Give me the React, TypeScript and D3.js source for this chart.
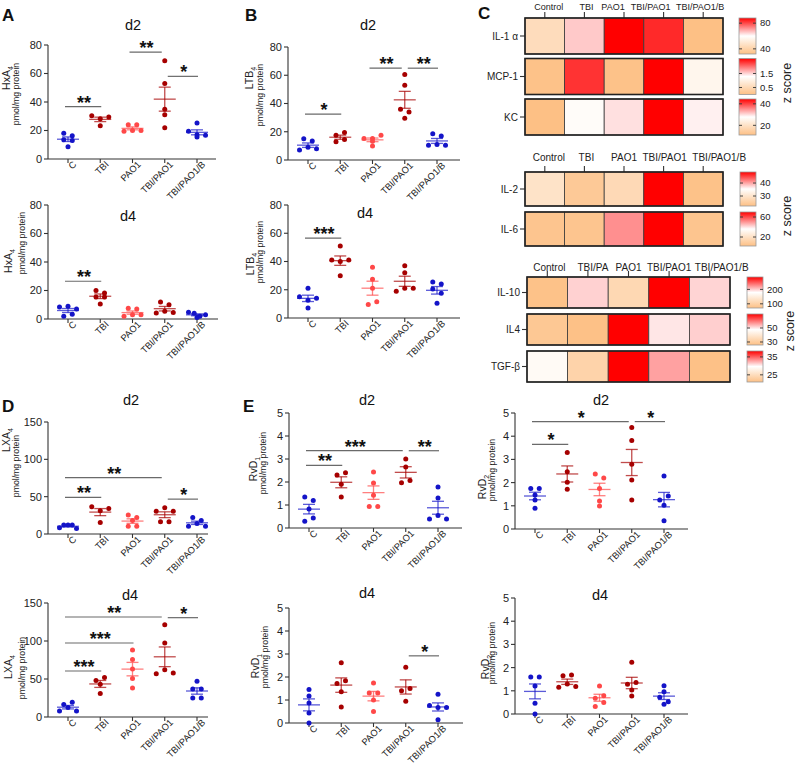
import React from 'react';
import * as d3 from 'd3';

const FONT = "'Liberation Sans', Arial, Helvetica, sans-serif";

// ---------- scatter data ----------
const categories = ['C', 'TBI', 'PAO1', 'TBI/PAO1', 'TBI/PAO1/B'];
const groupColors = ['#1414c8', '#a60000', '#ff4848', '#a60000', '#1414c8'];

const hxa4D2 = [[18, 16.3, 13.5, 13, 8.6], [30.3, 28.2, 29.4, 23.3], [19.5, 24, 20, 24, 20], [69, 53, 35, 31, 22], [19.4, 25.2, 15.4, 17, 16.6]];
const hxa4D2Sig: [number, number, number, string][] = [[0, 1, 36.8, '**'], [2, 3, 75, '**'], [3, 4, 58, '*']];
const hxa4D4 = [[8.5, 9, 7, 2, 3.3], [20, 18.3, 15.5, 15.5, 10.5], [2, 7.5, 7, 3, 3], [12, 10, 4.2, 5.5, 4.5], [4.7, 4, 2, 3, 1]];
const hxa4D4Sig: [number, number, number, string][] = [[0, 1, 26.5, '**']];

const ltb4D2 = [[15, 13.5, 7, 9, 8], [17.5, 19.5, 13, 14.5], [15.3, 15.3, 17.6, 9.9, 13.2], [60.5, 53, 36, 34, 29.5], [18.5, 17, 10.5, 11, 10.5]];
const ltb4D2Sig: [number, number, number, string][] = [[0, 1, 32.5, '*'], [2, 3, 65, '**'], [3, 4, 65, '**']];
const ltb4D4 = [[21, 15, 12.5, 14, 7], [51, 41, 40, 41, 30], [36, 27.5, 21, 9.5, 11.5], [37, 32, 19, 21, 21], [25.5, 24, 20.5, 17.5, 10.5]];
const ltb4D4Sig: [number, number, number, string][] = [[0, 1, 56.5, '***']];

const lxa4D2 = [[8.5, 12, 12, 12, 7.5], [36.5, 31, 34.3, 15.5], [25.5, 22, 18, 10.5, 10.5], [30.5, 35, 30.5, 16.5, 16.5], [22, 18, 10.5, 14, 10.5]];
const lxa4D2Sig: [number, number, number, string][] = [[0, 1, 49, '**'], [0, 3, 75.6, '**'], [3, 4, 46.7, '*']];
const lxa4D4 = [[16.5, 19.5, 8, 12.5, 8], [48, 52, 43, 31], [88, 75.5, 63, 50.5, 38], [121.5, 97.4, 57, 62.3, 57.9], [47, 37, 37, 25, 25]];
const lxa4D4Sig: [number, number, number, string][] = [[0, 1, 60.5, '***'], [0, 2, 97.4, '***'], [0, 3, 131.6, '**'], [3, 4, 130.7, '*']];

const rvd1D2 = [[1.35, 1.2, 0.83, 0.29, 0.43], [2.3, 2.4, 1.9, 1.35], [2.43, 1.96, 1.42, 0.94, 0.94], [3.0, 2.65, 1.97, 2.06], [1.78, 1.3, 0.39, 0.54, 0.39]];
const rvd1D2Sig: [number, number, number, string][] = [[0, 1, 2.72, '**'], [0, 3, 3.36, '***'], [3, 4, 3.36, '**']];
const rvd2D2 = [[1.75, 1.75, 1.47, 1.25, 0.89], [3.3, 2.47, 2.01, 1.71], [2.37, 2.2, 1.75, 1.21, 0.99], [4.37, 3.81, 2.79, 2.11, 1.25], [2.28, 1.25, 1.42, 1.02, 0.36]];
const rvd2D2Sig: [number, number, number, string][] = [[0, 1, 3.65, '*'], [0, 3, 4.63, '*'], [3, 4, 4.63, '*']];
const rvd1D4 = [[1.46, 1.17, 0.87, 0.44, 0], [2.62, 1.72, 1.84, 1.36, 0.7], [1.74, 1.3, 1.3, 1.0, 0.5], [2.42, 1.4, 1.5, 0.95], [1.25, 0.76, 0.67, 0.67, 0.14]];
const rvd1D4Sig: [number, number, number, string][] = [[3, 4, 2.92, '*']];
const rvd2D4 = [[1.6, 1.6, 1.21, 0.46, 0], [1.65, 1.68, 1.15, 1.29, 1.18], [1.21, 0.68, 0.79, 0.32, 0.5], [2.23, 1.28, 1.36, 1.03, 0.78], [1.22, 0.96, 0.72, 0.53, 0.42]];
const rvd2D4Sig: [number, number, number, string][] = [];

const ticks80 = [0, 20, 40, 60, 80];
const ticks150 = [0, 50, 100, 150];
const ticks5 = [0, 1, 2, 3, 4, 5];

// ---------- heatmap data ----------
const hmHeaders1 = ['Control', 'TBI', 'PAO1', 'TBI/PAO1', 'TBI/PAO1/B'];
const hmHeaders3 = ['Control', 'TBI/PA', 'PAO1', 'TBI/PAO1', 'TBI/PAO1/B'];
const hmRows1 = ['IL-1 α', 'MCP-1', 'KC'];
const hmRows2 = ['IL-2', 'IL-6'];
const hmRows3 = ['IL-10', 'IL4', 'TGF-β'];
const hmValues1 = [[-0.55, 0.21, 1, 0.84, -1], [-0.97, 0.8, -0.97, 1, -0.15], [-1, -0.05, 0.12, 1, 0.06]];
const hmValues2 = [[-0.45, -0.85, -0.6, 1, -0.97], [-0.92, -0.92, 0.44, 1, -0.92]];
const hmValues3 = [[-0.97, 0.18, -0.62, 1, 0.17], [-0.88, -0.98, 1, 0.1, 0.19], [-0.08, -0.7, 1, 0.37, -0.98]];
const cbDomains1 = [[32, 88], [0, 2.57], [11, 44.5]];
const cbTicks1 = [[40, 80], [0.5, 1.5], [20, 40]];
const cbDomains2 = [[22.3, 48.5], [2, 70]];
const cbTicks2 = [[30, 40], [20, 60]];
const cbDomains3 = [[71, 286], [25.7, 70], [21, 38.3]];
const cbTicks3 = [[100, 200], [30, 50], [25, 35]];

const ORANGE = '#fdc085';
const heatColor = d3.scaleLinear<string>().domain([-1, 0, 1]).range([ORANGE, '#ffffff', '#ff0000']).interpolate(d3.interpolateRgb);

// ---------- layout ----------
type Sig = [number, number, number, string];
type PanelCfg = {
  data: number[][]; sig: Sig[]; x0: number; y0: number; yTop: number; xEnd: number; max: number; ticks: number[];
  title: string; tx: number; ty: number; lab: [string, string]; l1: [number, number]; l2: [number, number];
};

const panels: PanelCfg[] = [
  { data: hxa4D2, sig: hxa4D2Sig, x0: 48, y0: 159, yTop: 45, xEnd: 216, max: 80, ticks: ticks80, title: 'd2', tx: 133, ty: 30, lab: ['HxA', '4'], l1: [10, 78], l2: [19, 94] },
  { data: hxa4D4, sig: hxa4D4Sig, x0: 48, y0: 319, yTop: 205, xEnd: 218, max: 80, ticks: ticks80, title: 'd4', tx: 128, ty: 221, lab: ['HxA', '4'], l1: [12, 261], l2: [25, 243] },
  { data: ltb4D2, sig: ltb4D2Sig, x0: 288, y0: 160, yTop: 47, xEnd: 460, max: 80, ticks: ticks80, title: 'd2', tx: 368, ty: 30, lab: ['LTB', '4'], l1: [253, 78], l2: [263, 95] },
  { data: ltb4D4, sig: ltb4D4Sig, x0: 288, y0: 318, yTop: 205, xEnd: 460, max: 80, ticks: ticks80, title: 'd4', tx: 365, ty: 218, lab: ['LTB', '4'], l1: [254, 264], l2: [263, 252] },
  { data: lxa4D2, sig: lxa4D2Sig, x0: 48, y0: 534, yTop: 422, xEnd: 208, max: 150, ticks: ticks150, title: 'd2', tx: 131, ty: 405, lab: ['LXA', '4'], l1: [10, 440], l2: [19, 466] },
  { data: lxa4D4, sig: lxa4D4Sig, x0: 48, y0: 717, yTop: 603, xEnd: 208, max: 150, ticks: ticks150, title: 'd4', tx: 130, ty: 600, lab: ['LXA', '4'], l1: [12, 667], l2: [25, 668] },
  { data: rvd1D2, sig: rvd1D2Sig, x0: 289, y0: 528, yTop: 413, xEnd: 462, max: 5, ticks: ticks5, title: 'd2', tx: 367, ty: 405, lab: ['RvD', '1'], l1: [257, 469], l2: [266, 463] },
  { data: rvd2D2, sig: rvd2D2Sig, x0: 515, y0: 529, yTop: 413, xEnd: 688, max: 5, ticks: ticks5, title: 'd2', tx: 601, ty: 405, lab: ['RvD', '2'], l1: [486, 487], l2: [495, 470] },
  { data: rvd1D4, sig: rvd1D4Sig, x0: 289, y0: 723, yTop: 608, xEnd: 463, max: 5, ticks: ticks5, title: 'd4', tx: 367, ty: 598, lab: ['RvD', '1'], l1: [259, 666], l2: [268, 657] },
  { data: rvd2D4, sig: rvd2D4Sig, x0: 515, y0: 714, yTop: 598, xEnd: 688, max: 5, ticks: ticks5, title: 'd4', tx: 600, ty: 600, lab: ['RvD', '2'], l1: [489, 667], l2: [495, 653] },
];

type HmCfg = {
  rows: string[]; headers: string[]; values: number[][]; domains: number[][]; cticks: number[][];
  x0: number; colW: number; top: number; rowH: number; gap: number; headerY: number; headerFs: number; nudge: number[];
  cbX: number; cbW: number; zX: number; zY: number;
};

const heatmaps: HmCfg[] = [
  { rows: hmRows1, headers: hmHeaders1, values: hmValues1, domains: cbDomains1, cticks: cbTicks1, x0: 525, colW: 39.6, top: 18, rowH: 36, gap: 4.5, headerY: 9.5, headerFs: 9, nudge: [4, 2, -11, -13, -3], cbX: 739, cbW: 17, zX: 791, zY: 83 },
  { rows: hmRows2, headers: hmHeaders1, values: hmValues2, domains: cbDomains2, cticks: cbTicks2, x0: 525, colW: 39.6, top: 172, rowH: 34, gap: 6, headerY: 161, headerFs: 10, nudge: [4, 2, 0, 1, 16], cbX: 740, cbW: 16, zX: 791, zY: 216 },
  { rows: hmRows3, headers: hmHeaders3, values: hmValues3, domains: cbDomains3, cticks: cbTicks3, x0: 527, colW: 40.6, top: 277, rowH: 31, gap: 6, headerY: 271, headerFs: 10, nudge: [2, 5, 0, 0, 12], cbX: 747, cbW: 16, zX: 794, zY: 331 },
];

const panelLetters: [string, number, number][] = [['A', 2, 21], ['B', 245, 21], ['C', 478, 19], ['D', 2, 412], ['E', 243, 412]];

// dot spreading like GraphPad: bin points with close y, spread horizontally
function spread(vals: number[], ppu: number): number[] {
  const idx = vals.map((_, i) => i).sort((a, b) => vals[b] - vals[a]);
  const res = new Array(vals.length).fill(0);
  let i = 0;
  while (i < idx.length) {
    const first = vals[idx[i]];
    let j = i + 1;
    while (j < idx.length && (first - vals[idx[j]]) * ppu <= 4.5) j++;
    const bin = idx.slice(i, j).sort((a, b) => a - b);
    const n = bin.length;
    const s = n <= 3 ? 8.5 : 17 / (n - 1);
    bin.forEach((k, m) => { res[k] = (m - (n - 1) / 2) * s; });
    i = j;
  }
  return res;
}

function ScatterPanel({ p }: { p: PanelCfg }) {
  const y = d3.scaleLinear().domain([0, p.max]).range([p.y0, p.yTop]);
  const x = d3.scalePoint<string>().domain(categories).range([p.x0 + 20, p.x0 + 149]);
  const ppu = (p.y0 - p.yTop) / p.max;
  return (
    <g>
      <text x={p.tx} y={p.ty} fontSize={14.5} textAnchor="middle" fill="#111">{p.title}</text>
      {/* y axis */}
      <line x1={p.x0} x2={p.x0} y1={p.y0} y2={p.yTop} stroke="#333" strokeWidth={1.1} />
      {p.ticks.map(t => (
        <g key={t}>
          <line x1={p.x0 - 4} x2={p.x0} y1={y(t)} y2={y(t)} stroke="#333" strokeWidth={1.1} />
          <text x={p.x0 - 6} y={y(t)} dy="0.36em" fontSize={11} textAnchor="end" fill="#222">{t}</text>
        </g>
      ))}
      {/* x axis */}
      <line x1={p.x0} x2={p.xEnd} y1={p.y0} y2={p.y0} stroke="#333" strokeWidth={1.1} />
      {categories.map(c => (
        <g key={c}>
          <line x1={x(c)} x2={x(c)} y1={p.y0} y2={p.y0 + 4} stroke="#333" strokeWidth={1.1} />
          <text transform={`translate(${(x(c) as number) + 9},${p.y0 + 6}) rotate(-45)`} fontSize={9.3} textAnchor="end" fill="#222">{c}</text>
        </g>
      ))}
      {/* y label */}
      <text transform={`translate(${p.l1[0]},${p.l1[1]}) rotate(-90)`} fontSize={10.5} textAnchor="middle" fill="#222">
        {p.lab[0]}<tspan fontSize={7} dy={3}>{p.lab[1]}</tspan>
      </text>
      <text transform={`translate(${p.l2[0]},${p.l2[1]}) rotate(-90)`} fontSize={8.7} textAnchor="middle" fill="#222">pmol/mg protein</text>
      {/* groups */}
      {p.data.map((vals, gi) => {
        const cx = x(categories[gi]) as number;
        const col = groupColors[gi];
        const offs = spread(vals, ppu);
        const m = d3.mean(vals) as number;
        const sem = (d3.deviation(vals) as number) / Math.sqrt(vals.length);
        return (
          <g key={gi}>
            {vals.map((v, k) => (
              <circle key={k} cx={cx + offs[k]} cy={y(v)} r={2.5} fill={col} />
            ))}
            <g stroke={col} strokeOpacity={0.7} strokeWidth={1.3}>
              <line x1={cx - 11} x2={cx + 11} y1={y(m)} y2={y(m)} />
              <line x1={cx} x2={cx} y1={y(m - sem)} y2={y(m + sem)} />
              <line x1={cx - 6} x2={cx + 6} y1={y(m - sem)} y2={y(m - sem)} />
              <line x1={cx - 6} x2={cx + 6} y1={y(m + sem)} y2={y(m + sem)} />
            </g>
          </g>
        );
      })}
      {/* significance */}
      {p.sig.map(([a, b, v, lab], i) => {
        const xa = (x(categories[a]) as number) + (a === 3 ? 3 : -3);
        const xb = (x(categories[b]) as number) + (b === 3 ? -3 : 1);
        return (
          <g key={i}>
            <line x1={xa} x2={xb} y1={y(v)} y2={y(v)} stroke="#6a6a6a" strokeWidth={1.2} />
            <text x={(xa + xb) / 2 + 1} y={y(v) + 2} fontSize={18} fontWeight="bold" textAnchor="middle" fill="#111">{lab}</text>
          </g>
        );
      })}
    </g>
  );
}

function Heatmap({ h, gid }: { h: HmCfg; gid: string }) {
  const x = d3.scaleBand<number>().domain(d3.range(5)).range([h.x0, h.x0 + 5 * h.colW]).padding(0);
  return (
    <g>
      {h.headers.map((t, i) => {
        const cx = (x(i) as number) + h.colW / 2;
        return (
          <g key={i}>
            <text x={cx + h.nudge[i]} y={h.headerY} fontSize={h.headerFs} textAnchor="middle" fill="#222">{t}</text>
            <line x1={cx} x2={cx} y1={h.top - 6} y2={h.top} stroke="#333" strokeWidth={1.1} />
          </g>
        );
      })}
      {h.rows.map((r, ri) => {
        const ry = h.top + ri * (h.rowH + h.gap);
        const cb = d3.scaleLinear().domain(h.domains[ri]).range([ry + h.rowH, ry]);
        return (
          <g key={r}>
            <text x={h.x0 - 7} y={ry + h.rowH / 2} dy="0.35em" fontSize={10} textAnchor="end" fill="#222">{r}</text>
            <line x1={h.x0 - 5} x2={h.x0} y1={ry + h.rowH / 2} y2={ry + h.rowH / 2} stroke="#333" strokeWidth={1.1} />
            {h.values[ri].map((v, ci) => (
              <rect key={ci} x={x(ci)} y={ry} width={x.bandwidth()} height={h.rowH} fill={heatColor(v)} stroke="#3a3a3a" strokeWidth={0.8} />
            ))}
            <rect x={h.x0} y={ry} width={5 * h.colW} height={h.rowH} fill="none" stroke="#222" strokeWidth={1.6} />
            {/* colorbar */}
            <rect x={h.cbX} y={ry} width={h.cbW} height={h.rowH} fill={`url(#${gid})`} stroke="#999" strokeWidth={0.8} />
            {h.cticks[ri].map(t => (
              <g key={t}>
                <line x1={h.cbX} x2={h.cbX + 3} y1={cb(t)} y2={cb(t)} stroke="#333" strokeWidth={0.9} />
                <line x1={h.cbX + h.cbW - 3} x2={h.cbX + h.cbW} y1={cb(t)} y2={cb(t)} stroke="#333" strokeWidth={0.9} />
                <text x={h.cbX + h.cbW + 4} y={cb(t)} dy="0.35em" fontSize={9.5} fill="#222">{t}</text>
              </g>
            ))}
          </g>
        );
      })}
      <text transform={`translate(${h.zX},${h.zY}) rotate(-90)`} fontSize={12.5} textAnchor="middle" fill="#222">z score</text>
    </g>
  );
}

export default function App() {
  return (
    <svg width={797} height={766} viewBox="0 0 797 766" style={{ position: 'absolute', left: 0, top: 0, background: '#fff' }} fontFamily={FONT}>
      <defs>
        <linearGradient id="cbGrad" x1="0" y1="1" x2="0" y2="0">
          <stop offset="0" stopColor={ORANGE} />
          <stop offset="0.5" stopColor="#ffffff" />
          <stop offset="1" stopColor="#ff0000" />
        </linearGradient>
      </defs>
      <rect x={0} y={0} width={797} height={766} fill="#fff" />
      {panelLetters.map(([l, lx, ly]) => (
        <text key={l} x={lx} y={ly} fontSize={17} fontWeight="bold" fill="#111">{l}</text>
      ))}
      {panels.map((p, i) => <ScatterPanel key={i} p={p} />)}
      {heatmaps.map((h, i) => <Heatmap key={i} h={h} gid="cbGrad" />)}
    </svg>
  );
}
